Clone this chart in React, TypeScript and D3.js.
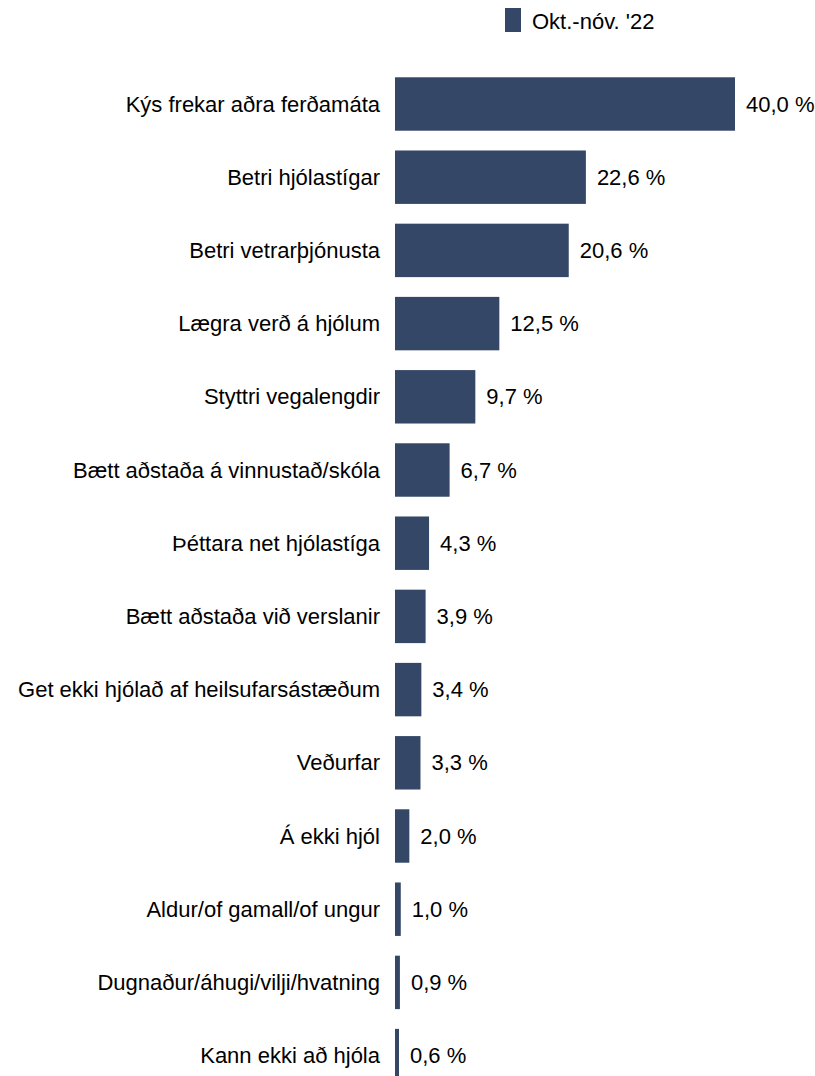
import * as d3 from "d3";

const categories = [
  "Kýs frekar aðra ferðamáta",
  "Betri hjólastígar",
  "Betri vetrarþjónusta",
  "Lægra verð á hjólum",
  "Styttri vegalengdir",
  "Bætt aðstaða á vinnustað/skóla",
  "Þéttara net hjólastíga",
  "Bætt aðstaða við verslanir",
  "Get ekki hjólað af heilsufarsástæðum",
  "Veðurfar",
  "Á ekki hjól",
  "Aldur/of gamall/of ungur",
  "Dugnaður/áhugi/vilji/hvatning",
  "Kann ekki að hjóla",
];

const values = [40.0, 22.6, 20.6, 12.5, 9.7, 6.7, 4.3, 3.9, 3.4, 3.3, 2.0, 1.0, 0.9, 0.6];

const seriesName = "Okt.-nóv. '22";

const W = 815;
const H = 1076;
const barColor = "#344767";
const font = "'Liberation Sans', Arial, sans-serif";
const fs = 22;
const barLeft = 395;

export default function App() {
  const x = d3.scaleLinear().domain([0, 40]).range([392.2, 735]);
  const y = d3
    .scaleBand<string>()
    .domain(categories)
    .range([67.4, 67.4 + 73.2 * categories.length])
    .paddingInner(0.27)
    .paddingOuter(0.135);

  const fmt = (v: number) => v.toFixed(1).replace(".", ",") + " %";

  return (
    <svg
      width={W}
      height={H}
      style={{ position: "absolute", left: 0, top: 0 }}
      fontFamily={font}
    >
      {/* legend */}
      <rect x={505} y={8} width={16} height={24} fill={barColor} />
      <text x={532} y={21} fontSize={fs} dominantBaseline="central" fill="#000">
        {seriesName}
      </text>

      {categories.map((c, i) => {
        const yy = y(c)!;
        const bw = y.bandwidth();
        const v = values[i];
        const end = Math.max(x(v), barLeft + 4);
        return (
          <g key={c}>
            <rect x={barLeft} y={yy} width={end - barLeft} height={bw} fill={barColor} />
            <text
              x={380}
              y={yy + bw / 2}
              fontSize={fs}
              textAnchor="end"
              dominantBaseline="central"
              fill="#000"
            >
              {c}
            </text>
            <text
              x={end + 11}
              y={yy + bw / 2}
              fontSize={fs}
              dominantBaseline="central"
              fill="#000"
            >
              {fmt(v)}
            </text>
          </g>
        );
      })}
    </svg>
  );
}
